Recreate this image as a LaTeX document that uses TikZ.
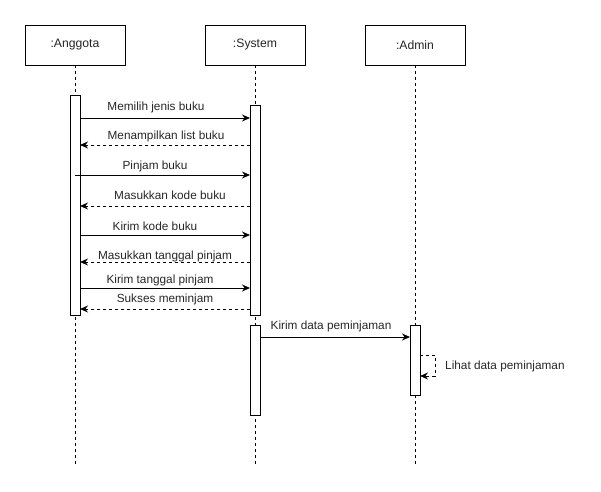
\documentclass[tikz,border=0pt]{standalone}
\usepackage{fontspec}
\setmainfont{Liberation Sans}
\usetikzlibrary{arrows.meta}
\begin{document}
\begin{tikzpicture}[x=1pt,y=-1pt,
  actor/.style={draw,line width=1pt,fill=white,minimum width=100pt,minimum height=40pt,
    inner sep=0pt,outer sep=0pt,font=\fontsize{12.2}{14}\selectfont,text=black!85},
  actbar/.style={draw,line width=1pt,fill=white,minimum width=10pt,inner sep=0pt,outer sep=0pt},
  life/.style={line width=1pt,dash pattern=on 3pt off 3pt},
  msg/.style={line width=1pt,-{Stealth[length=8pt,width=7pt]}},
  reply/.style={msg,dash pattern=on 3pt off 3pt},
  lbl/.style={font=\fontsize{11.8}{13}\selectfont,inner sep=0pt,text=black!85}]
\useasboundingbox (0,0) rectangle (601,491);

% participants
\node[actor] (pA) at (75,45) {:Anggota};
\node[actor] (pS) at (255,45) {:System};
\node[actor] (pD) at (415,45) {:Admin};

% lifeline ends
\coordinate (eA) at (75,465);
\coordinate (eS) at (255,465);
\coordinate (eD) at (415,465);
\draw[life] (pA.south) -- (eA);
\draw[life] (pS.south) -- (eS);
\draw[life] (pD.south) -- (eD);

% activation bars
\node[actbar,minimum height=220pt] (aA) at (75,205) {};
\node[actbar,minimum height=210pt] (aS1) at (255,210) {};
\node[actbar,minimum height=90pt] (aS2) at (255,370) {};
\node[actbar,minimum height=70pt] (aD) at (415,360) {};

% messages between Anggota and System
\draw[msg] (aA.east |- 0,118) -- (aS1.west |- 0,118);
\node[lbl] (l1) at (156,107) {Memilih jenis buku};
\draw[reply] (aS1.west |- 0,145) -- (aA.east |- 0,145);
\node[lbl] (l2) at (166,136) {Menampilkan list buku};
\draw[msg] (aA.center |- 0,175) -- (aS1.west |- 0,175);
\node[lbl] (l3) at (155,166) {Pinjam buku};
\draw[reply] (aS1.west |- 0,206) -- (aA.east |- 0,206);
\node[lbl] (l4) at (170,195) {Masukkan kode buku};
\draw[msg] (aA.east |- 0,235) -- (aS1.west |- 0,235);
\node[lbl] (l5) at (155,226) {Kirim kode buku};
\draw[reply] (aS1.west |- 0,262) -- (aA.east |- 0,262);
\node[lbl] (l6) at (165,256) {Masukkan tanggal pinjam};
\draw[msg] (aA.east |- 0,288) -- (aS1.west |- 0,288);
\node[lbl] (l7) at (160,280) {Kirim tanggal pinjam};
\draw[reply] (aS1.west |- 0,309) -- (aA.east |- 0,309);
\node[lbl] (l8) at (165,299) {Sukses meminjam};

% System to Admin
\draw[msg] (aS2.east |- 0,337) -- (aD.west |- 0,337);
\node[lbl] (l9) at (331,326) {Kirim data peminjaman};

% self call on Admin
\draw[reply] (aD.east |- 0,355) -- ++(15,0) -- ++(0,21) -- (aD.east |- 0,376);
\node[lbl,anchor=west] (l10) at (445,366) {Lihat data peminjaman};
\end{tikzpicture}
\end{document}
